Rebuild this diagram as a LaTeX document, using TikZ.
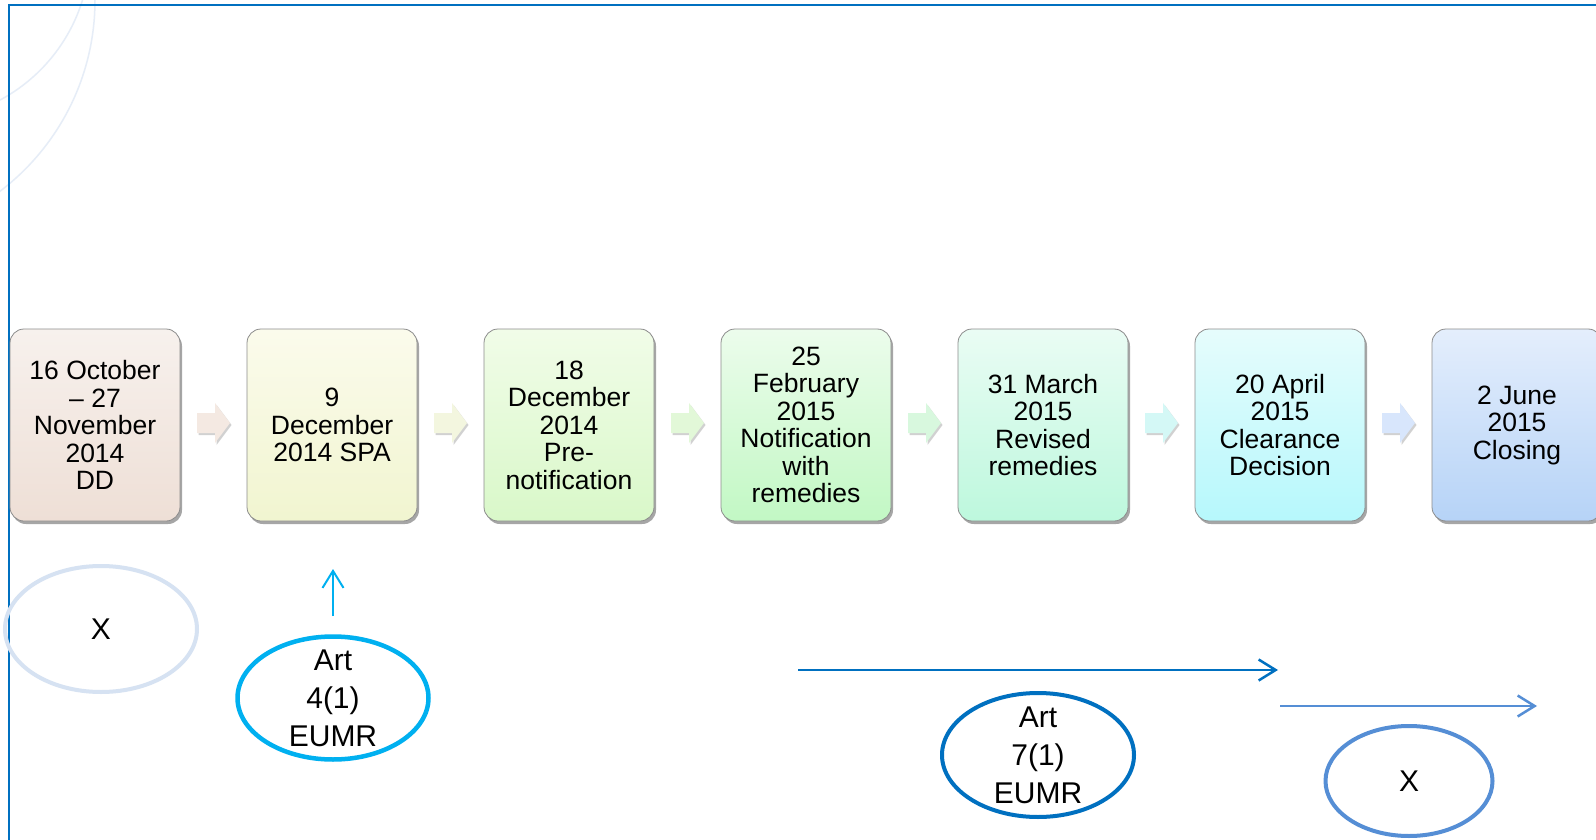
\documentclass[tikz,border=0pt]{standalone}
\usepackage{fontspec}
\setmainfont{Liberation Sans}
\usetikzlibrary{shapes.geometric,shadows,arrows.meta}
\definecolor{frameblue}{HTML}{0070C0}
\definecolor{arcblue}{HTML}{E6EDF7}
\definecolor{lightring}{HTML}{D6E2F2}
\definecolor{cyanring}{HTML}{00B0F0}
\definecolor{midblue}{HTML}{558ED5}
\definecolor{boxedge}{HTML}{8C8C8C}
\definecolor{t1}{HTML}{F7F1ED}\definecolor{u1}{HTML}{EEDFD6}
\definecolor{t2}{HTML}{FBFBEC}\definecolor{u2}{HTML}{F1F5D0}
\definecolor{t3}{HTML}{F1FCE8}\definecolor{u3}{HTML}{D9F8C9}
\definecolor{t4}{HTML}{ECFCEC}\definecolor{u4}{HTML}{C2F8C4}
\definecolor{t5}{HTML}{EAFCF4}\definecolor{u5}{HTML}{BDF8DD}
\definecolor{t6}{HTML}{E6FCFC}\definecolor{u6}{HTML}{B6F8FC}
\definecolor{t7}{HTML}{E4EEFC}\definecolor{u7}{HTML}{B6D3F7}
\definecolor{f1}{HTML}{F4E9E2}\definecolor{f2}{HTML}{F3F6DF}
\definecolor{f3}{HTML}{E2F8D8}\definecolor{f4}{HTML}{D8F8DE}
\definecolor{f5}{HTML}{D4F8F6}\definecolor{f6}{HTML}{D8E6FC}
\newcommand{\blkarrow}[2]{%
  \fill[#2, drop shadow={shadow xshift=1.5pt,shadow yshift=-2pt,opacity=0.18,fill=black}]
    ([shift={(-16.5,-10)}]#1) -- ([shift={(1.5,-10)}]#1) -- ([shift={(1.5,-20)}]#1)
    -- ([shift={(16.5,0)}]#1) -- ([shift={(1.5,20)}]#1) -- ([shift={(1.5,10)}]#1)
    -- ([shift={(-16.5,10)}]#1) -- cycle;}
\begin{document}
\begin{tikzpicture}[x=1pt,y=-1pt,
  stepbox/.style={draw=boxedge, line width=0.8pt, rounded corners=14pt,
    minimum width=170pt, minimum height=192pt, inner sep=0pt, align=center,
    font=\fontsize{26.5}{27.5}\selectfont,
    drop shadow={shadow xshift=2pt,shadow yshift=-3pt,opacity=0.35,fill=black}},
  ring/.style={ellipse, inner xsep=0pt, inner ysep=-12pt, align=center,
    font=\fontsize{30}{38}\selectfont},
  thinarrow/.style={line width=2.5pt, -{Straight Barb[length=17pt,width=21pt]}}
]
\useasboundingbox (0,0) rectangle (1596,840);
\fill[white] (0,0) rectangle (1596,840);
\begin{scope}
\clip (0,0) rectangle (1596,840);
\draw[arcblue, line width=1.5pt] (-80,-50) circle[radius=170];
\draw[arcblue, line width=1.5pt] (-145,0) circle[radius=240];
\end{scope}
\draw[frameblue, line width=2pt] (1596,5) -- (9,5) -- (9,840);

% steps
\node[stepbox, top color=t1, bottom color=u1] (b1) at (95,425) {16 October\\– 27\\November\\2014\\DD};
\node[stepbox, top color=t2, bottom color=u2] (b2) at (332,425) {9\\December\\2014 SPA};
\node[stepbox, top color=t3, bottom color=u3] (b3) at (569,425) {18\\December\\2014\\Pre-\\notification};
\node[stepbox, top color=t4, bottom color=u4] (b4) at (806,425) {25\\February\\2015\\Notification\\with\\remedies};
\node[stepbox, top color=t5, bottom color=u5] (b5) at (1043,425) {31 March\\2015\\Revised\\remedies};
\node[stepbox, top color=t6, bottom color=u6] (b6) at (1280,425) {20 April\\2015\\Clearance\\Decision};
\node[stepbox, top color=t7, bottom color=u7] (b7) at (1517,425) {2 June\\2015\\Closing};

% block arrows
\coordinate (a1) at (213.5,423);
\coordinate (a2) at (450.5,423);
\coordinate (a3) at (687.5,423);
\coordinate (a4) at (924.5,423);
\coordinate (a5) at (1161.5,423);
\coordinate (a6) at (1398.5,423);
\blkarrow{a1}{f1}
\blkarrow{a2}{f2}
\blkarrow{a3}{f3}
\blkarrow{a4}{f4}
\blkarrow{a5}{f5}
\blkarrow{a6}{f6}

% rings
\node[ring, draw=lightring, line width=4pt, minimum width=192pt, minimum height=126pt] (e1) at (101,629) {X};
\node[ring, draw=cyanring, line width=4.5pt, minimum width=191pt, minimum height=123pt] (e2) at (333,698) {Art\\4(1)\\EUMR};
\node[ring, draw=frameblue, line width=4pt, minimum width=192pt, minimum height=124pt] (e3) at (1038,755) {Art\\7(1)\\EUMR};
\node[ring, draw=midblue, line width=4pt, minimum width=167pt, minimum height=110pt] (e4) at (1409,781) {X};

% arrows
\coordinate (v0) at (333,616);
\coordinate (v1) at (333,569);
\draw[cyanring, line width=2pt, -{Straight Barb[length=17pt,width=21pt]}] (v0) -- (v1);
\coordinate (h0) at (798,670);
\coordinate (h1) at (1278,670);
\draw[frameblue, thinarrow] (h0) -- (h1);
\coordinate (g0) at (1280,706);
\coordinate (g1) at (1537,706);
\draw[midblue, thinarrow] (g0) -- (g1);
\end{tikzpicture}
\end{document}
